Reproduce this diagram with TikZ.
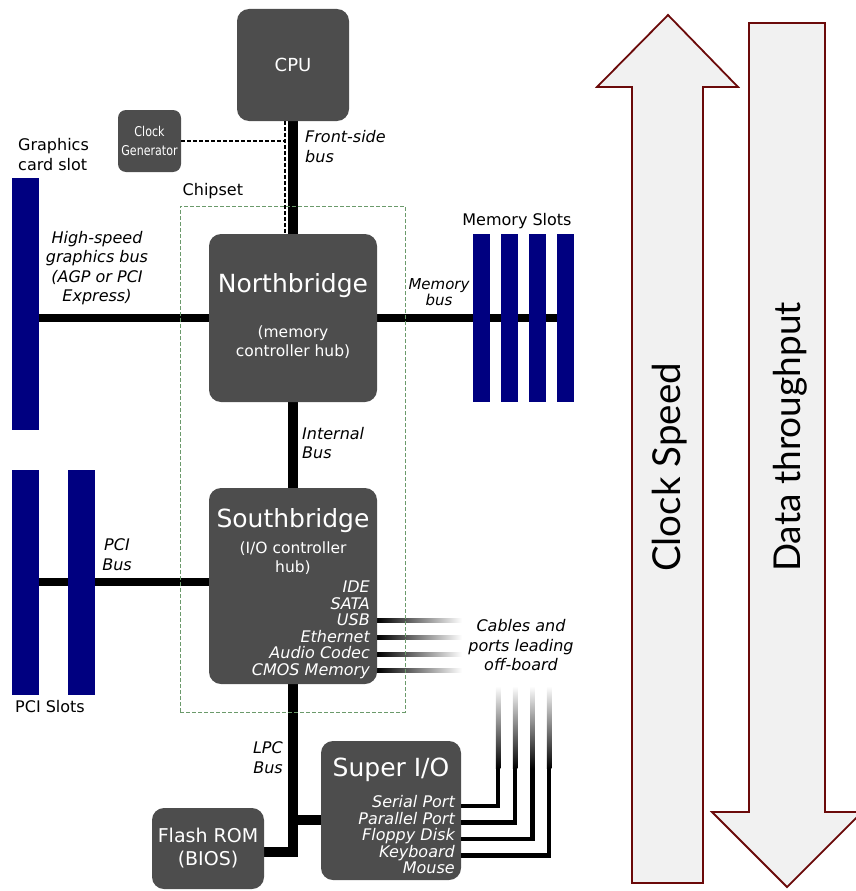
\documentclass[tikz,border=0pt]{standalone}
\usepackage{fontspec}
\setmainfont{DejaVu Sans}
\newfontfamily\condfont{DejaVu Sans}[FakeStretch=0.82]
\newfontfamily\arrowfont{Lato}
\usetikzlibrary{calc,backgrounds}
\definecolor{chipgray}{HTML}{4D4D4D}
\definecolor{slotblue}{HTML}{000080}
\definecolor{chipsetgreen}{HTML}{6B9A6B}
\definecolor{arrowred}{HTML}{6B0A0A}
\definecolor{arrowfill}{HTML}{F1F1F1}

\begin{document}
\begin{tikzpicture}[x=1pt, y=-1pt,
    chip/.style={fill=chipgray, rounded corners=12pt, text=white, align=center, inner sep=0pt},
    slot/.style={fill=slotblue, inner sep=0pt, minimum width=27},
    memslot/.style={fill=slotblue, inner sep=0pt, minimum width=17.5, minimum height=168},
    bus/.style={line width=10pt},
    hbus/.style={line width=8pt},
    cable/.style={line width=4.5pt, line join=miter},
    clockline/.style={dash pattern=on 4pt off 2pt, line width=1.2pt},
    lbl/.style={inner sep=0pt, font=\fontsize{16}{19.5}\selectfont},
    ilbl/.style={inner sep=0pt, font=\fontsize{16}{19.5}\selectfont\itshape},
    title/.style={text=white, inner sep=0pt, font=\fontsize{25}{30}\selectfont},
    sub/.style={text=white, inner sep=0pt, align=center, font=\fontsize{15.5}{19.5}\selectfont},
    list/.style={text=white, inner sep=0pt, align=right, anchor=east, font=\fontsize{16}{16.5}\selectfont\itshape},
    bigarrow/.style={draw=arrowred, fill=arrowfill, line width=1.8pt, line join=miter},
    arrowtext/.style={rotate=90, anchor=west, inner sep=0pt, font=\arrowfont\fontsize{37}{40}\selectfont}]
    \useasboundingbox (0,0) rectangle (856,891);

    \draw[bigarrow] (668,15) -- (738,87) -- (703,87) -- (703,883) -- (632,883) -- (632,87) -- (597,87) -- cycle;
    \draw[bigarrow] (749,23) -- (825,23) -- (825,812) -- (862,812) -- (787,887) -- (712,812) -- (749,812) -- cycle;
    \node[arrowtext, font=\arrowfont\fontsize{38.5}{40}\selectfont] (speed) at (670,572) {Clock Speed};
    \node[arrowtext] (throughput) at (790,572) {Data throughput};

    \node[chip, minimum width=112, minimum height=112, font=\fontsize{18}{22}\selectfont] (cpu) at (293,65) {CPU};
    \node[chip, rounded corners=8pt, minimum width=63, minimum height=62, font=\condfont\fontsize{13.5}{19}\selectfont] (clk) at (149.5,141) {Clock\\Generator};
    \node[chip, minimum width=168, minimum height=168] (nb) at (293,318) {};
    \node[chip, minimum width=168, minimum height=196] (sb) at (293,586) {};
    \node[chip, minimum width=140, minimum height=139] (sio) at (391,810.5) {};
    \node[chip, minimum width=112, minimum height=81, font=\fontsize{19}{23}\selectfont] (rom) at (208,848.5) {Flash ROM\\(BIOS)};

    \node[title] (nbtitle) at (293,285.5) {Northbridge};
    \node[sub] (nbsub) at (293,342) {(memory\\controller hub)};
    \node[title] (sbtitle) at (293,520.5) {Southbridge};
    \node[sub] (sbsub) at (293,558) {(I/O controller\\hub)};
    \node[list] (sblist) at (370,630) {IDE\\SATA\\USB\\Ethernet\\Audio Codec\\CMOS Memory};
    \node[title] (siotitle) at (391,769.5) {Super I/O};
    \node[list] (siolist) at (455,835) {Serial Port\\Parallel Port\\Floppy Disk\\Keyboard\\Mouse};

    \node[slot, minimum height=252] (gfx) at (25.5,304) {};
    \node[slot, minimum height=225] (pci1) at (25.5,582.5) {};
    \node[slot, minimum height=225] (pci2) at (81.5,582.5) {};
    \foreach \i in {1,...,4}
        \node[memslot] (mem\i) at (453.5+28*\i,318) {};

    \node[draw=chipsetgreen, dash pattern=on 4pt off 2pt, line width=1pt, minimum width=225, minimum height=506, inner sep=0pt] (chipset) at (292.5,459) {};

    \node[lbl, anchor=base west] (chipsetlbl) at ([xshift=3pt,yshift=10pt]chipset.north west) {Chipset};
    \node[lbl, align=left, anchor=west] (gfxlbl) at (18,154.5) {Graphics\\card slot};
    \node[ilbl, align=left, anchor=west] (fsblbl) at (305,146.5) {Front-side\\bus};
    \node[ilbl, align=center] (agplbl) at (97,268) {High-speed\\graphics bus\\(AGP or PCI\\Express)};
    \node[ilbl, align=center, font=\fontsize{15}{15.5}\selectfont\itshape] (memlbl) at (439,292) {Memory\\bus};
    \node[lbl] (memslbl) at (517,221) {Memory Slots};
    \node[ilbl, align=left, anchor=west] (intlbl) at (302,443) {Internal\\Bus};
    \node[ilbl, align=center] (pcilbl) at (117,554.5) {PCI\\Bus};
    \node[lbl] (pcislbl) at (50,707) {PCI Slots};
    \node[ilbl, align=right, anchor=east] (lpclbl) at (283,757.5) {LPC\\Bus};
    \node[ilbl, align=center] (cablelbl) at (521,645.5) {Cables and\\ports leading\\off-board};

    \coordinate (ckx) at (285,0);
    \draw[clockline] (clk.east) -- (clk.east -| ckx);
    \draw[clockline] (cpu.south -| ckx) -- (nb.north -| ckx);

    \begin{scope}[on background layer]
        \draw[bus] (cpu.south) -- (nb.north);
        \draw[hbus] (nb.west) -- (nb.west -| gfx.center);
        \draw[hbus] (nb.east) -- (nb.east -| mem4.center);
        \draw[bus] (nb.south) -- (sb.north);
        \draw[hbus] ([yshift=4pt]sb.west) -- ([yshift=4pt]sb.west -| pci1.center);
        \draw[bus] (sb.south) |- ([yshift=-3.5pt]rom.east);
        \draw[bus] ([yshift=-9.5pt]sio.west) -- ([yshift=-9.5pt]sio.west -| sb.south);
        \foreach \y in {620,637,654,670}
            \shade[left color=black, right color=white] (sb.east |- 0,\y-2) rectangle (462,\y+2);
    \end{scope}

    \foreach \y/\x in {806/498, 822.5/515, 839/532.5, 855.5/549} {
        \draw[cable] (sio.east |- 0,\y) -- (\x,\y) -- (\x,768);
        \shade[top color=white, bottom color=black] (\x-2.25,686) rectangle (\x+2.25,768.5);
    }
\end{tikzpicture}
\end{document}
